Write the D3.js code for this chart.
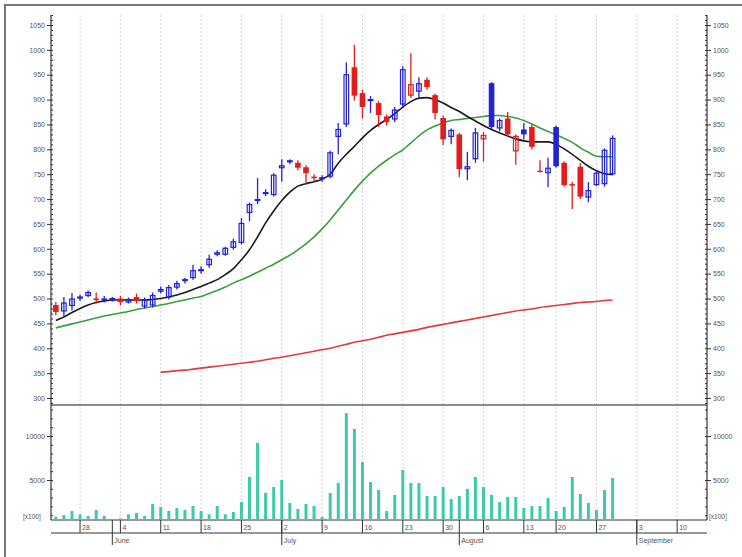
<!DOCTYPE html>
<html><head><meta charset="utf-8">
<script src="https://cdn.jsdelivr.net/npm/d3@7/dist/d3.min.js"></script>
<style>html,body{margin:0;padding:0;background:#fff;} text{font-family:"Liberation Sans",Arial,sans-serif;}</style>
</head><body><svg id="c" width="742" height="557"></svg>
<script>
// ---- data ----
const dates = ["2012-05-23","2012-05-24","2012-05-25","2012-05-28","2012-05-29","2012-05-30","2012-05-31",
"2012-06-01","2012-06-04","2012-06-05","2012-06-06","2012-06-07","2012-06-08","2012-06-11","2012-06-12","2012-06-13","2012-06-14","2012-06-15",
"2012-06-18","2012-06-19","2012-06-20","2012-06-21","2012-06-22","2012-06-25","2012-06-26","2012-06-27","2012-06-28","2012-06-29",
"2012-07-02","2012-07-03","2012-07-04","2012-07-05","2012-07-06","2012-07-09","2012-07-10","2012-07-11","2012-07-12","2012-07-13",
"2012-07-16","2012-07-17","2012-07-18","2012-07-19","2012-07-20","2012-07-23","2012-07-24","2012-07-25","2012-07-26","2012-07-27",
"2012-07-30","2012-07-31","2012-08-01","2012-08-02","2012-08-03","2012-08-06","2012-08-07","2012-08-08","2012-08-09","2012-08-10",
"2012-08-13","2012-08-14","2012-08-16","2012-08-17","2012-08-20","2012-08-21","2012-08-22","2012-08-23","2012-08-24",
"2012-08-27","2012-08-28","2012-08-29"];
const futureDates = ["2012-08-30","2012-08-31","2012-09-03","2012-09-04","2012-09-05","2012-09-06","2012-09-07",
"2012-09-10","2012-09-11","2012-09-12","2012-09-13","2012-09-14"];

const open  = [487,474,485,500,505,500,496,496,500,492,503,484,486,514,502,522,535,541,555,567,588,588,602,612,672,696,710,708,762,774,773,764,745,740,745,825,850,965,913,897,893,866,860,890,908,916,940,909,863,825,830,760,780,820,933,842,862,796,840,845,757,752,845,773,730,765,703,728,730,750];
const high  = [493,503,511,508,516,512,505,503,505,502,510,502,512,524,527,536,542,568,565,588,597,604,620,662,693,742,720,752,780,780,778,768,750,748,797,853,975,1010,920,907,897,870,885,967,993,945,945,912,868,842,833,795,843,835,935,862,875,830,853,850,778,783,848,776,735,772,734,755,802,828];
const low   = [467,465,476,495,503,490,492,494,486,490,490,480,482,510,498,518,530,538,550,562,585,586,598,609,655,690,706,705,735,770,758,730,735,735,742,790,845,898,862,873,845,848,855,885,903,905,920,860,808,810,744,738,773,775,840,836,826,769,820,800,753,724,763,725,680,700,694,726,725,748];
const close = [473,491,499,503,512,497,499,500,493,498,495,497,506,518,522,530,538,556,558,579,592,601,614,651,689,699,713,748,767,777,763,752,742,743,793,840,950,908,885,900,869,855,879,960,930,932,925,873,820,838,760,765,833,828,845,858,830,826,830,805,755,762,766,728,727,705,717,752,798,822];
const volume = [830,1020,1480,1100,910,1590,910,570,650,1100,1250,910,2270,1930,1480,1820,1590,2050,1480,1100,2050,1100,1360,2500,5340,9200,3520,4200,5000,2390,1700,2270,2050,800,3520,4660,12600,10800,7050,4770,3860,1480,3300,6140,4660,4660,3180,3180,4200,2840,3180,3980,5340,4200,3300,2500,3070,3070,1820,2050,2050,2950,1480,1930,5340,3410,2390,1590,3860,5230];
const maShort = [456,463,472,480,487,492,495,497,497,497,497,497,498,500,503,507,512,518,524,531,538,548,560,578,598,624,652,676,697,714,726,731,735,740,750,772,790,806,823,838,850,860,872,885,896,903,904,900,893,884,876,866,857,848,840,833,827,821,817,815,815,815,810,801,790,778,766,757,751,749];
const maMid = [441,445,449,453,457,461,465,468,471,474,478,481,484,487,490,494,497,501,504,510,516,523,531,538,545,553,561,569,578,587,598,610,624,640,658,678,698,718,736,752,766,778,789,799,813,827,839,847,853,858,860,862,864,866,868,868,866,863,858,851,843,836,829,822,814,803,794,786,785,785];
const maLong = [null,null,null,null,null,null,null,null,null,null,null,null,null,352,353,355,356,358,360,362,364,366,368,370,372,374,377,380,382,385,388,391,394,397,400,404,408,412,415,418,422,426,429,432,435,438,442,445,448,451,454,457,460,463,466,469,472,475,477,479,482,484,486,488,490,492,493,494,496,497];

const weekTickDates = ["2012-05-28","2012-06-04","2012-06-11","2012-06-18","2012-06-25","2012-07-02","2012-07-09","2012-07-16","2012-07-23","2012-07-30","2012-08-06","2012-08-13","2012-08-20","2012-08-27","2012-09-03","2012-09-10"];
const monthTickDates = ["2012-06-01","2012-07-02","2012-08-01","2012-09-03"];
const monthTickLabels = ["June","July","August","September"];
const priceTicks = [300,350,400,450,500,550,600,650,700,750,800,850,900,950,1000,1050];
const volumeTicks = [5000,10000];

// ---- layout ----
const svg = d3.select("#c");
const L = 51, R = 707, T = 15, SEP = 405, B = 520;
const allDays = dates.concat(futureDates);
const idx = d => allDays.indexOf(d);
const x = d3.scaleLinear().domain([-0.6, allDays.length - 1.3]).range([L, R]);
const yP = d3.scaleLinear().domain([300, 1050]).range([398, 25]);
const yV = d3.scaleLinear().domain([0, 10000]).range([524, 436]);

const BLUE = "#2323d6", RED = "#e41c1c", GRID = "#c8c8c8", AX = "#333";
const fmt = d3.format("d");

// frame
svg.append("rect").attr("x",5).attr("y",5).attr("width",760).attr("height",580)
  .attr("fill","none").attr("stroke","#777").attr("stroke-width",2);

// vertical grid
svg.append("g").selectAll("line").data(weekTickDates).join("line")
  .attr("x1",d=>x(idx(d))).attr("x2",d=>x(idx(d))).attr("y1",T).attr("y2",B)
  .attr("stroke",GRID).attr("stroke-width",0.8).attr("stroke-dasharray","2,2");

// separator & axes lines
svg.append("line").attr("x1",L).attr("x2",R).attr("y1",SEP).attr("y2",SEP).attr("stroke","#666").attr("stroke-width",1.5);
svg.append("line").attr("x1",L).attr("x2",R).attr("y1",B).attr("y2",B).attr("stroke",AX).attr("stroke-width",1);
svg.append("line").attr("x1",L).attr("x2",R).attr("y1",533).attr("y2",533).attr("stroke",AX).attr("stroke-width",1);
[L,R].forEach(xx=>svg.append("line").attr("x1",xx).attr("x2",xx).attr("y1",T).attr("y2",B).attr("stroke",AX).attr("stroke-width",1.2));

function styleAxis(g){
  g.select(".domain").remove();
  g.selectAll("line").attr("stroke",AX);
  g.selectAll("text").attr("fill","#555").style("font-size","7px");
}
// price axes
const minorP = d3.range(290,1071,10).filter(v=>yP(v)>T && yP(v)<SEP);
svg.append("g").attr("transform",`translate(${L},0)`).call(d3.axisLeft(yP).tickValues(priceTicks).tickFormat(fmt).tickSize(4).tickPadding(2)).call(styleAxis);
svg.append("g").attr("transform",`translate(${L},0)`).call(d3.axisRight(yP).tickValues(minorP).tickSize(2).tickFormat("")).call(styleAxis);
svg.append("g").attr("transform",`translate(${R},0)`).call(d3.axisRight(yP).tickValues(priceTicks).tickFormat(fmt).tickSize(4).tickPadding(2)).call(styleAxis);
svg.append("g").attr("transform",`translate(${R},0)`).call(d3.axisLeft(yP).tickValues(minorP).tickSize(2).tickFormat("")).call(styleAxis);
// volume axes
const minorV = d3.range(1000,14000,1000).filter(v=>yV(v)>SEP+2 && yV(v)<B);
svg.append("g").attr("transform",`translate(${L},0)`).call(d3.axisLeft(yV).tickValues(volumeTicks).tickFormat(fmt).tickSize(4).tickPadding(2)).call(styleAxis);
svg.append("g").attr("transform",`translate(${L},0)`).call(d3.axisRight(yV).tickValues(minorV).tickSize(2).tickFormat("")).call(styleAxis);
svg.append("g").attr("transform",`translate(${R},0)`).call(d3.axisRight(yV).tickValues(volumeTicks).tickFormat(fmt).tickSize(4).tickPadding(2)).call(styleAxis);
svg.append("g").attr("transform",`translate(${R},0)`).call(d3.axisLeft(yV).tickValues(minorV).tickSize(2).tickFormat("")).call(styleAxis);
svg.append("text").attr("x",23).attr("y",519).attr("fill","#555").style("font-size","6.5px").text("[x100]");
svg.append("text").attr("x",709).attr("y",519).attr("fill","#555").style("font-size","6.5px").text("[x100]");

// bottom date axis
const wk = svg.append("g");
weekTickDates.forEach(d=>{
  const xx = x(idx(d));
  wk.append("line").attr("x1",xx).attr("x2",xx).attr("y1",B).attr("y2",533).attr("stroke",AX);
  wk.append("text").attr("x",xx+2).attr("y",530).attr("fill","#555").style("font-size","7px").text(+d.slice(8));
});
monthTickDates.forEach((d,i)=>{
  const xx = x(idx(d));
  wk.append("line").attr("x1",xx).attr("x2",xx).attr("y1",B).attr("y2",545).attr("stroke",AX);
  wk.append("text").attr("x",xx+2).attr("y",543).attr("fill","#555").style("font-size","7px").text(monthTickLabels[i]);
});

// volume bars
svg.append("g").selectAll("rect").data(volume).join("rect")
  .attr("x",(v,i)=>x(i)-1.5).attr("width",3)
  .attr("y",v=>yV(v)).attr("height",v=>Math.max(0,B-yV(v)))
  .attr("fill","#3ec9ad");

// moving averages
const line = d3.line().defined(d=>d[1]!=null).x(d=>x(d[0])).y(d=>yP(d[1])).curve(d3.curveMonotoneX);
const addMA = (arr,col,w)=>svg.append("path").attr("d",line(arr.map((v,i)=>[i,v]))).attr("fill","none").attr("stroke",col).attr("stroke-width",w);
addMA(maLong,"#e43a3a",1.6);
addMA(maMid,"#3a9e3a",1.6);
addMA(maShort,"#1a1a1a",1.6);

// candles
const cg = svg.append("g");
dates.forEach((d,i)=>{
  const prev = i>0 ? close[i-1] : open[i];
  const col = close[i] >= prev ? BLUE : RED;
  const filled = close[i] < open[i];
  const xx = x(i);
  cg.append("line").attr("x1",xx).attr("x2",xx).attr("y1",yP(high[i])).attr("y2",yP(low[i])).attr("stroke",col).attr("stroke-width",1.3);
  const top = yP(Math.max(open[i],close[i])), bot = yP(Math.min(open[i],close[i]));
  const h = Math.max(1.2, bot-top);
  if (filled) {
    cg.append("rect").attr("x",xx-2.8).attr("y",top).attr("width",5.6).attr("height",h).attr("fill",col);
  } else {
    cg.append("rect").attr("x",xx-2.3).attr("y",top).attr("width",4.6).attr("height",Math.max(0.4,h-0.5)).attr("fill","none").attr("stroke",col).attr("stroke-width",1.2);
  }
});
</script></body></html>
